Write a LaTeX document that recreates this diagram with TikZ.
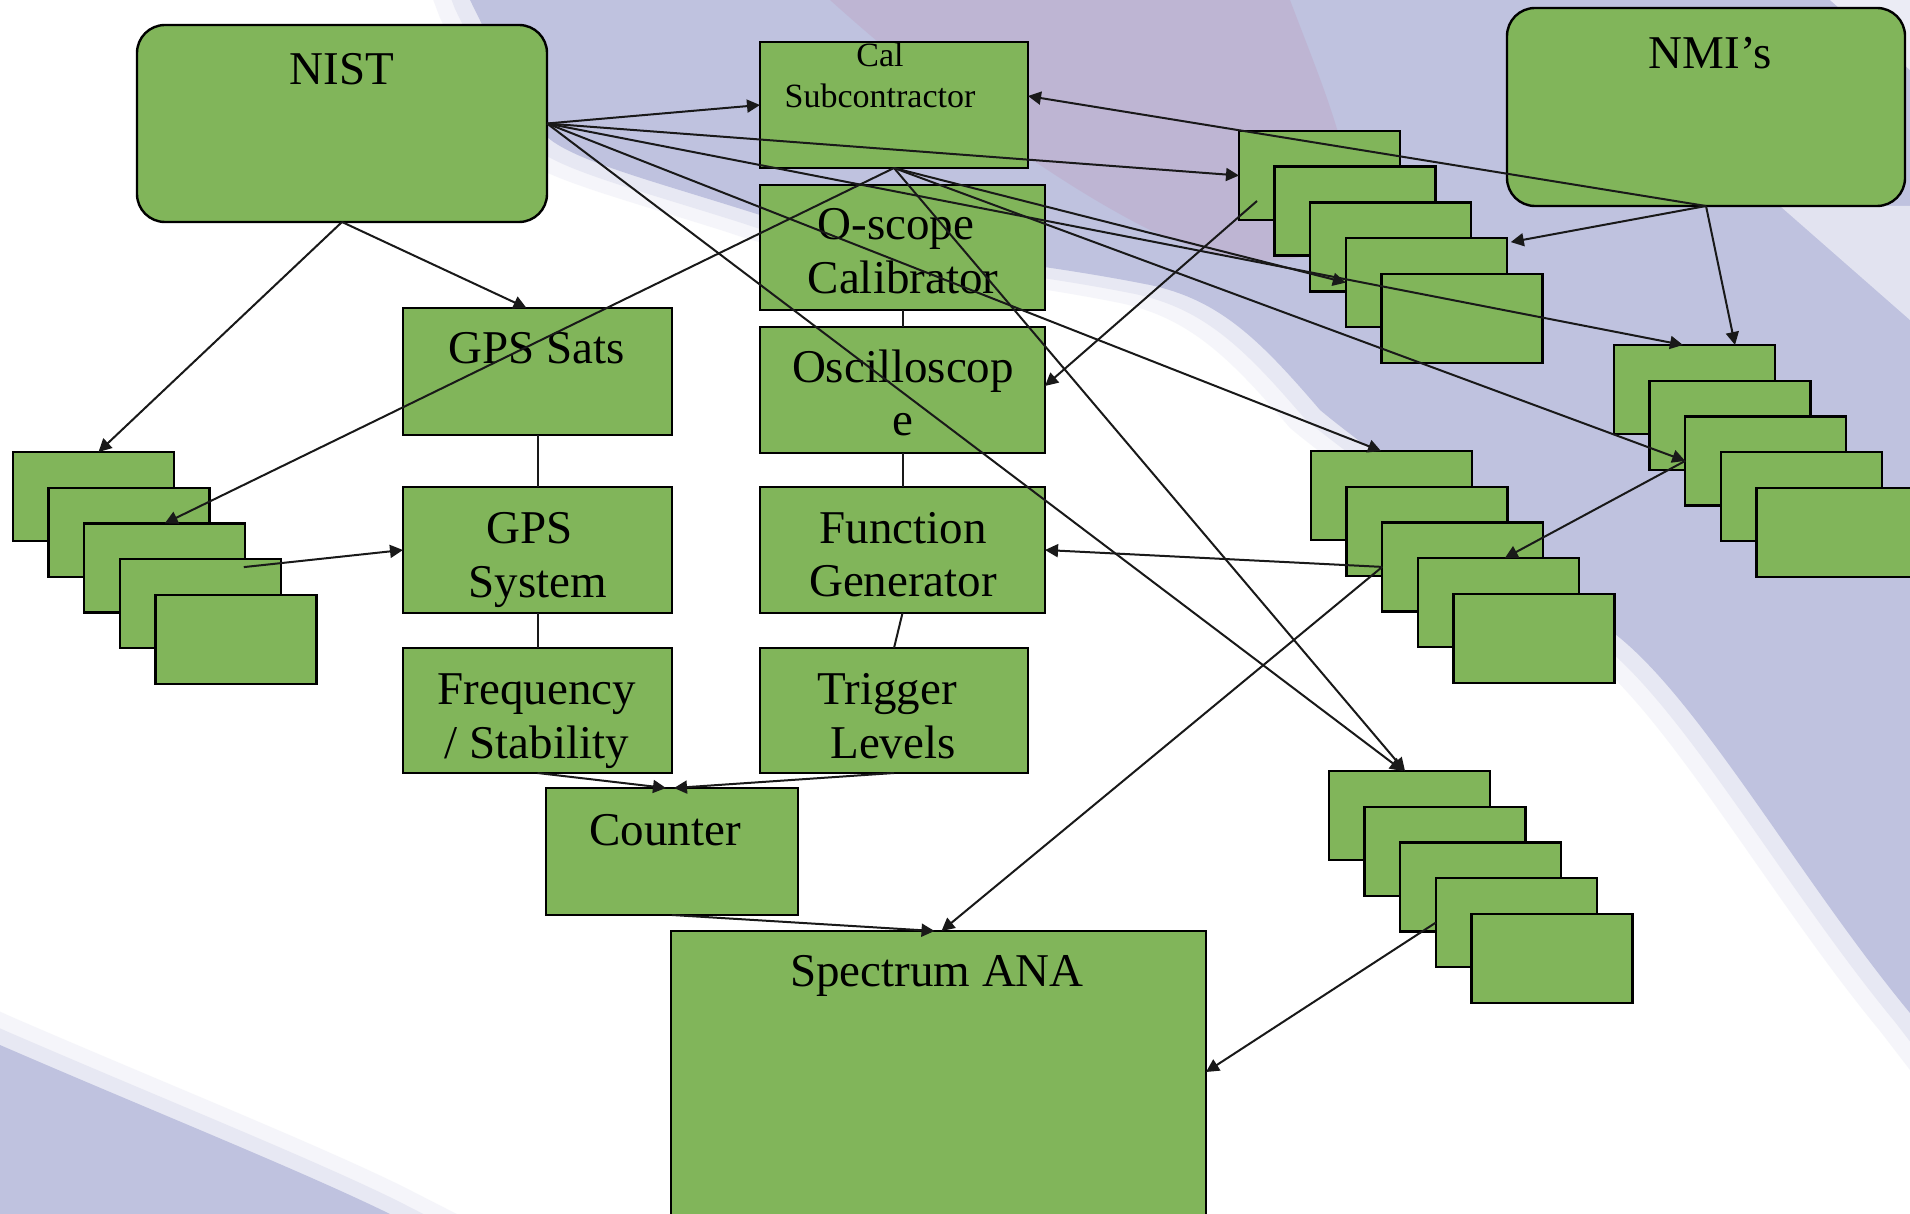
\documentclass[tikz,border=0pt]{standalone}
\usepackage{fontspec}
\setmainfont{Liberation Serif}
\usetikzlibrary{arrows.meta,calc}
\definecolor{boxgreen}{RGB}{129,181,90}
\definecolor{lav}{RGB}{191,194,223}
\definecolor{purp}{RGB}{190,181,211}
\definecolor{lnk}{RGB}{25,25,25}
\newcommand\gbx[6][]{%
  \pgfmathsetmacro\bxw{(#4-#2)*0.5}%
  \pgfmathsetmacro\bxh{(#5-#3)*0.5}%
  \pgfmathsetmacro\bxcx{(#2+#4)/2}%
  \pgfmathsetmacro\bxcy{(#3+#5)/2}%
  \node[gbox,#1,minimum width=\bxw pt,minimum height=\bxh pt] (#6) at (\bxcx,\bxcy) {};}
\newcommand\stk[3]{%
  \foreach \k in {1,...,5}{%
    \node[gbox,minimum width=80.5pt,minimum height=44.5pt,anchor=north west] (#1\k) at ({#2+35.6*(\k-1)},{#3+35.7*(\k-1)}) {};}}
\newcommand\lavregion{(440,-80) -- (2000,-80) -- (2000,1130) -- (1910,1013) .. controls (1800,880) and (1700,700) .. (1615,634)
  .. controls (1500,540) and (1380,460) .. (1320,410) .. controls (1260,340) and (1220,300) .. (1150,285)
  .. controls (1000,255) and (860,250) .. (760,215) .. controls (650,180) and (570,160) .. (545,135)
  .. controls (515,95) and (490,40) .. (470,0) -- cycle}
\newcommand\swoosh{(-60,1018) -- (0,1045) .. controls (150,1110) and (300,1170) .. (390,1214) -- (480,1260) -- (-60,1260) -- cycle}
\begin{document}
\begin{tikzpicture}[x=0.5pt,y=-0.5pt,
  gbox/.style={draw=black,fill=boxgreen,line width=1.2pt,inner sep=0pt,outer sep=0pt},
  rbox/.style={rounded corners=14pt},
  lbl/.style={font=\fontsize{23.5pt}{27pt}\selectfont,anchor=base,inner sep=0pt},
  slbl/.style={font=\fontsize{17pt}{20pt}\selectfont,anchor=base,inner sep=0pt},
  arr/.style={draw=lnk,line width=1pt,-{Triangle[length=6.5pt,width=6.5pt]}},
  plain/.style={draw=lnk,line width=1pt},
]
\useasboundingbox (0,0) rectangle (1910,1214);
\clip (0,0) rectangle (1910,1214);
% background
\fill[white] (0,0) rectangle (1910,1214);
\fill[lav,opacity=0.15,shift={(-30,18)}] \lavregion;
\fill[lav,opacity=0.25,shift={(-15,9)}] \lavregion;
\fill[lav] \lavregion;
\fill[purp] (830,0) -- (1290,0) .. controls (1320,80) and (1360,170) .. (1350,230)
  .. controls (1300,280) and (1220,260) .. (1150,230) .. controls (1050,180) and (930,90) .. cycle;
\fill[white,opacity=0.7] (1830,0) -- (1910,0) -- (1910,70) -- cycle;
\fill[white,opacity=0.55] (1780,206) -- (1910,206) -- (1910,320) -- cycle;
\fill[lav,opacity=0.15,shift={(12,-28)}] \swoosh;
\fill[lav,opacity=0.25,shift={(6,-14)}] \swoosh;
\fill[lav] \swoosh;
% main boxes
\gbx[rbox]{137}{25}{547}{222}{nist}
\gbx[rbox]{1507}{8}{1905}{206}{nmi}
\gbx{760}{42}{1028}{168}{calsub}
\gbx{760}{185}{1045}{310}{ocal}
\gbx{760}{327}{1045}{453}{osc}
\gbx{760}{487}{1045}{613}{fg}
\gbx{760}{648}{1028}{773}{trig}
\gbx{403}{308}{672}{435}{gpssats}
\gbx{403}{487}{672}{613}{gpssys}
\gbx{403}{648}{672}{773}{freq}
\gbx{546}{788}{798}{915}{counter}
\gbx{671}{931}{1206}{1240}{spec}
% stacks
\stk{L}{13}{452}
\stk{D}{1239}{131}
\stk{C}{1614}{345}
\stk{A}{1311}{451}
\stk{B}{1329}{771}
% labels
\node[lbl] (nist-t) at (342,85) {NIST};
\node[lbl] (nmi-t) at (1710,69) {NMI’s};
\node[slbl] (cal-t1) at (880,67) {Cal};
\node[slbl] (cal-t2) at (880,108) {Subcontractor};
\node[lbl] (ocal-t1) at (896,240) {O-scope};
\node[lbl] (ocal-t2) at (903,293) {Calibrator};
\node[lbl] (sats-t) at (537,363) {GPS Sats};
\node[lbl] (osc-t1) at (903,382) {Oscilloscop};
\node[lbl] (osc-t2) at (903,435) {e};
\node[lbl] (sys-t1) at (530,543) {GPS};
\node[lbl] (sys-t2) at (538,597) {System};
\node[lbl] (fg-t1) at (903,543) {Function};
\node[lbl] (fg-t2) at (903,596) {Generator};
\node[lbl] (fr-t1) at (537,704) {Frequency};
\node[lbl] (fr-t2) at (537,758) {/ Stability};
\node[lbl] (tr-t1) at (887,704) {Trigger};
\node[lbl] (tr-t2) at (893,758) {Levels};
\node[lbl] (cnt-t) at (665,845) {Counter};
\node[lbl] (spec-t) at (937,986) {Spectrum ANA};
% plain links
\draw[plain] (gpssats.south) -- (gpssys.north);
\draw[plain] (gpssys.south) -- (freq.north);
\draw[plain] (ocal.south) -- (osc.north);
\draw[plain] (osc.south) -- (fg.north);
\draw[plain] (fg.south) -- (trig.north);
% arrows from NIST
\draw[arr] (nist.east) -- (calsub.west);
\draw[arr] (nist.east) -- (D1.west);
\draw[arr] (nist.east) -- ($(C1.north west)+(69,0)$);
\draw[arr] (nist.east) -- ($(A1.north west)+(70,0)$);
\draw[arr] (nist.east) -- ($(B1.north west)+(74,0)$);
\draw[arr] (nist.south) -- ($(L1.north)+(5,0)$);
\draw[arr] (nist.south) -- ($(gpssats.north)+(-11,0)$);
% arrows from Cal Subcontractor
\draw[arr] (calsub.south) -- (L3.north);
\draw[arr] (calsub.south) -- (D4.west);
\draw[arr] (calsub.south) -- (C3.west);
\draw[arr] (calsub.south) -- ($(B1.north west)+(76,0)$);
% arrows from NMI's
\draw[arr] (nmi.south) -- ($(calsub.east)+(0,-9)$);
\draw[arr] (nmi.south) -- ($(D4.north east)+(4,4)$);
\draw[arr] (nmi.south) -- ($(C1.north west)+(121,0)$);
% other arrows
\draw[arr] ($(D1.south west)+(18,-19)$) -- ($(osc.east)+(0,-4)$);
\draw[arr] (A3.west) -- (fg.east);
\draw[arr] (A3.west) -- ($(spec.north)+(3,0)$);
\draw[arr] (C3.west) -- ($(A4.north west)+(87,0)$);
\draw[arr] (B4.west) -- ($(spec.north east)+(0,141)$);
\draw[arr] ($(L4.north west)+(124,8)$) -- (gpssys.west);
\draw[arr] (freq.south) -- ($(counter.north)+(-6,0)$);
\draw[arr] (trig.south) -- ($(counter.north)+(2,0)$);
\draw[arr] (counter.south) -- ($(spec.north)+(-4,0)$);
\end{tikzpicture}
\end{document}
